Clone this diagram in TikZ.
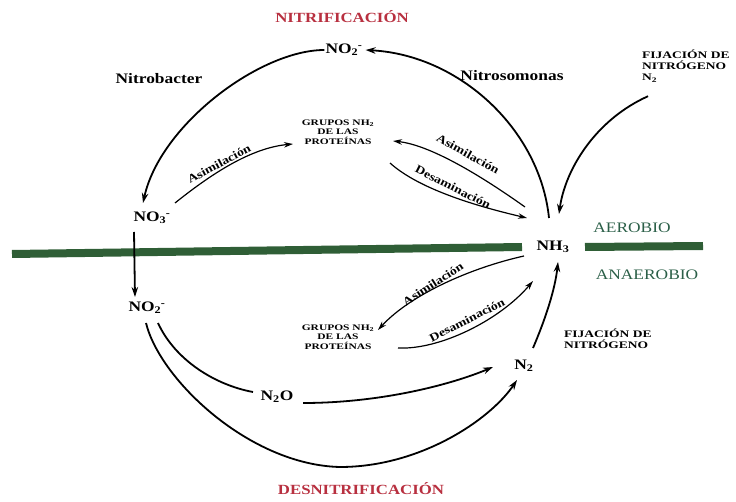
\documentclass[tikz,border=0pt]{standalone}
\usepackage{fontspec}
\setmainfont{Liberation Serif}[FakeStretch=1.2]
\newfontfamily\smallfont{Liberation Serif}[FakeStretch=1.35]
\usetikzlibrary{arrows.meta}
\definecolor{titred}{HTML}{B83040}
\definecolor{bargreen}{HTML}{2F5E36}
\definecolor{aergreen}{HTML}{2B5F48}
\newcommand\subsup[2]{\textsubscript{#1}\kern-0.5pt\textsuperscript{#2}}
\tikzset{
 chem/.style={font=\bfseries\fontsize{14.5}{16}\selectfont, inner sep=1pt},
 ttl/.style={font=\bfseries\fontsize{14}{16}\selectfont, text=titred, inner sep=1pt},
 aer/.style={font=\fontsize{14.5}{16}\selectfont, text=aergreen, inner sep=1pt},
 tinylab/.style={font=\smallfont\bfseries\fontsize{8.5}{9.5}\selectfont, align=center, inner sep=1pt},
 fij/.style={font=\smallfont\bfseries\fontsize{10}{11}\selectfont, align=left, anchor=west, inner sep=1pt},
 rlab/.style={font=\bfseries\fontsize{11.5}{13}\selectfont, inner sep=1pt},
 bigarr/.style={line width=1.8pt, -{Stealth[length=10pt,width=6.5pt]}},
 bigline/.style={line width=1.8pt},
 smlarr/.style={line width=1.2pt, -{Stealth[length=9pt,width=5.5pt]}},
 bar/.style={line width=8pt, bargreen},
}
\begin{document}
\begin{tikzpicture}[x=1pt,y=-1pt]
\useasboundingbox (0,0) rectangle (736,502);
% green bars
\draw[bar] (12,254) -- (522,247);
\draw[bar] (585,247) -- (703,246);
% nodes
\node[ttl] (nitri) at (342,17) {NITRIFICACIÓN};
\node[chem] (no2t) at (344,50) {NO\subsup{2}{-}};
\node[chem] (nitrob) at (159,79) {Nitrobacter};
\node[chem] (nitros) at (512,76) {Nitrosomonas};
\node[fij] (fijt) at (641,66) {FIJACIÓN DE\\NITRÓGENO\\N\textsubscript{2}};
\node[tinylab] (grpt) at (338,132) {GRUPOS NH\textsubscript{2}\\DE LAS\\PROTEÍNAS};
\node[chem] (no3) at (152,218) {NO\subsup{3}{-}};
\node[chem] (nh3) at (553,247) {NH\textsubscript{3}};
\node[aer] (aer) at (632,228) {AEROBIO};
\node[aer] (anaer) at (647,275) {ANAEROBIO};
\node[chem] (no2b) at (147,308) {NO\subsup{2}{-}};
\node[tinylab] (grpb) at (338,337) {GRUPOS NH\textsubscript{2}\\DE LAS\\PROTEÍNAS};
\node[fij] (fijb) at (563,339) {FIJACIÓN DE\\NITRÓGENO};
\node[chem] (n2) at (524,366) {N\textsubscript{2}};
\node[chem] (n2o) at (277,397) {N\textsubscript{2}O};
\node[ttl] (desn) at (361,489) {DESNITRIFICACIÓN};
% edge labels
\node[rlab, rotate=28] (asim1) at (219,164) {Asimilación};
\node[rlab, rotate=-29] (asim2) at (468,154) {Asimilación};
\node[rlab, rotate=-27] (desam1) at (453,187) {Desaminación};
\node[rlab, rotate=33] (asim3) at (433,284) {Asimilación};
\node[rlab, rotate=27] (desam2) at (467,320) {Desaminación};
% big cycle
\draw[bigarr] (no2t.west) .. controls (260,50) and (160,125) .. ([shift={(-9,-15)}]no3.center);
\draw[bigarr] ([shift={(-4,-29)}]nh3.center) .. controls (540,130) and (460,55) .. ([xshift=2pt]no2t.east);
\draw[bigarr] ([shift={(7,13)}]fijt.south west) .. controls (595,120) and (565,170) .. ([shift={(6,-33)}]nh3.center);
\draw[bigarr] ([shift={(-18,14)}]no3.center) -- ([shift={(-12,-11)}]no2b.center);
\draw[bigline] ([shift={(11,15)}]no2b.center) .. controls (175,360) and (215,385) .. ([shift={(-24,-5)}]n2o.center);
\draw[bigarr] ([shift={(-1,15)}]no2b.center) .. controls (160,380) and (250,465) .. (340,467)
   .. controls (420,467) and (490,420) .. ([shift={(-7,14)}]n2.center);
\draw[bigarr] ([shift={(26,6)}]n2o.center) .. controls (380,403) and (450,385) .. ([shift={(-31,1)}]n2.center);
\draw[bigarr] ([shift={(9,-18)}]n2.center) .. controls (545,320) and (555,290) .. ([shift={(5,15)}]nh3.center);
% small arrows
\draw[smlarr] ([shift={(23,-15)}]no3.center) .. controls (210,175) and (250,148) .. ([shift={(-45,12)}]grpt.center);
\draw[smlarr] ([shift={(-28,-40)}]nh3.center) .. controls (480,175) and (430,145) .. ([shift={(55,9)}]grpt.center);
\draw[smlarr] ([shift={(52,31)}]grpt.center) .. controls (420,190) and (480,207) .. ([shift={(-26,-29)}]nh3.center);
\draw[smlarr] ([shift={(-29,9)}]nh3.center) .. controls (470,268) and (410,295) .. ([shift={(40,-7)}]grpb.center);
\draw[smlarr] ([shift={(60,11)}]grpb.center) .. controls (440,350) and (500,320) .. ([shift={(-20,34)}]nh3.center);
\end{tikzpicture}
\end{document}
